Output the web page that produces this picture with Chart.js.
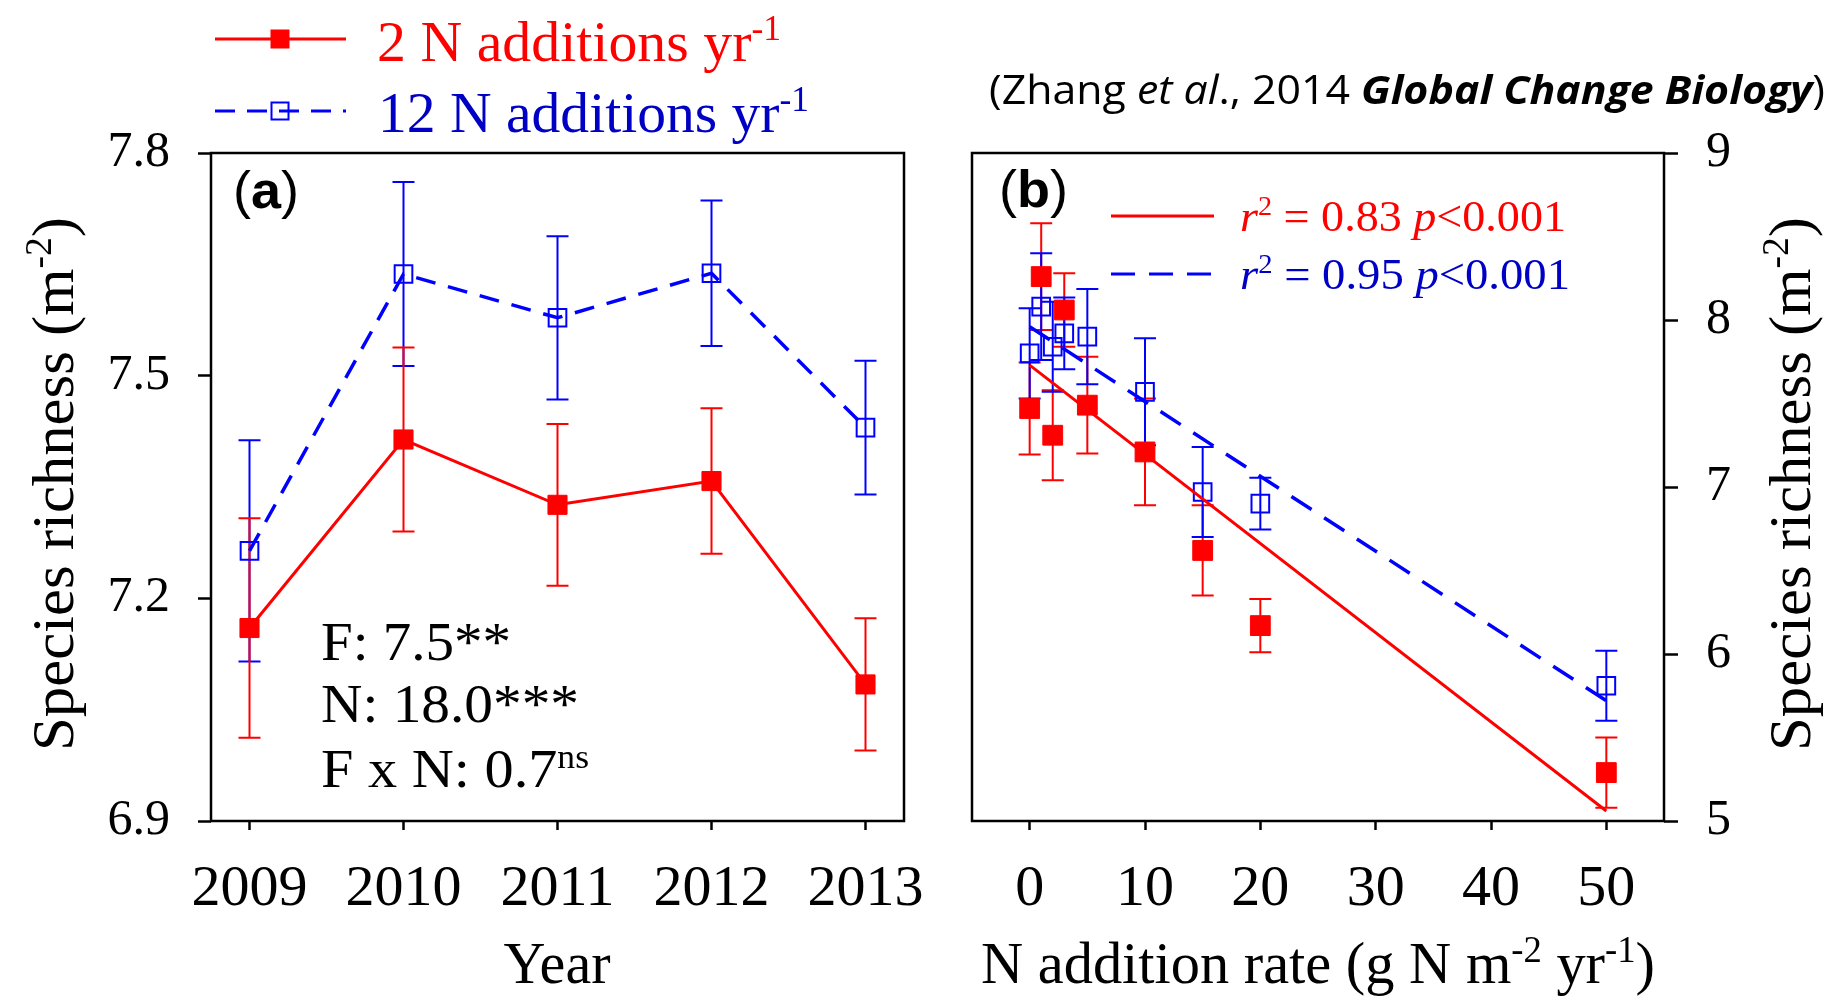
<!DOCTYPE html>
<html>
<head>
<meta charset="utf-8">
<title>Species richness under N additions</title>
<script src="https://cdn.jsdelivr.net/npm/chart.js@4.4.1/dist/chart.umd.min.js"></script>
<style>
  html, body { margin: 0; padding: 0; background: #fff; }
  #wrap { position: relative; width: 1839px; height: 996px; overflow: hidden; background: #fff; }
  canvas { position: absolute; top: 0; }
  #chartA { left: 0; }
  #chartB { left: 940px; }
</style>
</head>
<body>
<div id="wrap">
  <canvas id="chartA" width="940" height="996"></canvas>
  <canvas id="chartB" width="899" height="996"></canvas>
</div>
<script>
// panel (a): yearly means for the two addition frequencies
const years = [2009, 2010, 2011, 2012, 2013];
const rich2N = [7.160, 7.414, 7.326, 7.358, 7.084];
const se2N = [0.148, 0.124, 0.109, 0.098, 0.089];
const rich12N = [7.264, 7.637, 7.578, 7.638, 7.430];
const se12N = [0.149, 0.124, 0.110, 0.098, 0.090];
const yTicksA = [6.9, 7.2, 7.5, 7.8];

// panel (b): richness against N addition rate
const nRates = [0, 1, 2, 3, 5, 10, 15, 20, 50];
const richRate2N = [7.47, 8.26, 7.31, 8.06, 7.49, 7.21, 6.62, 6.17, 5.29];
const seRate2N = [0.275, 0.32, 0.27, 0.22, 0.29, 0.32, 0.27, 0.16, 0.21];
const richRate12N = [7.80, 8.08, 7.84, 7.92, 7.90, 7.57, 6.97, 6.90, 5.81];
const seRate12N = [0.27, 0.32, 0.27, 0.215, 0.285, 0.32, 0.27, 0.155, 0.21];
// regression lines, end points at rate 0 and 50
const fitX = [0, 50];
const fit2N = [7.73, 5.06];
const fit12N = [7.96, 5.72];
const xTicksB = [0, 10, 20, 30, 40, 50];
const yTicksB = [5, 6, 7, 8, 9];

const RED = '#ff0000';
const BLUE = '#0000ff';
const BLUE_TXT = '#0000c4';
const SERIF = "'Liberation Serif', 'Times New Roman', serif";
const SANS = "'Liberation Sans', Arial, sans-serif";
const CITE = "'Open Sans', Lato, sans-serif";

const toXY = (xs, ys) => xs.map((v, i) => ({ x: v, y: ys[i] }));

// text made of runs (italic / bold / superscript), optionally squeezed to a width
function drawRich(ctx, runs, o) {
  const size = o.size;
  const fontOf = r => (r.i ? 'italic ' : '') + (r.b ? 'bold ' : '') +
    Math.round((r.sup ? 0.62 : 1) * size) + 'px ' + (r.f || o.family || SERIF);
  let total = 0;
  const widths = runs.map(r => {
    ctx.font = fontOf(r);
    const w = ctx.measureText(r.t).width;
    total += w;
    return w;
  });
  const sx = o.width ? o.width / total : 1;
  ctx.save();
  ctx.translate(o.x, o.y);
  if (o.rotate) ctx.rotate(o.rotate);
  ctx.scale(sx, 1);
  ctx.textBaseline = 'alphabetic';
  ctx.textAlign = 'left';
  let cx = o.align === 'center' ? -total / 2 : 0;
  runs.forEach((r, k) => {
    ctx.font = fontOf(r);
    ctx.fillStyle = r.c || o.color || '#000';
    ctx.fillText(r.t, cx, r.sup ? -0.36 * size : 0);
    cx += widths[k];
  });
  ctx.restore();
}

function axisStyle(tickLen, pad, size) {
  return {
    border: { display: false },
    grid: { drawOnChartArea: false, drawTicks: true, tickLength: tickLen, tickWidth: 2.5, tickColor: '#000' },
    ticks: { color: '#000', padding: pad, autoSkip: false, maxRotation: 0, font: { family: SERIF, size: size } }
  };
}

// fixed axis box, no extra room asked for overhanging labels
const fixBox = (w, h) => s => {
  if (w) s.width = w;
  if (h) s.height = h;
  s.paddingLeft = 0; s.paddingRight = 0; s.paddingTop = 0; s.paddingBottom = 0;
};

// box round the plot area plus vertical error bars with caps
function framePlugin(bars) {
  return {
    id: 'frameBars',
    beforeDatasetsDraw(chart) {
      const { ctx, chartArea: a, scales: { x, y } } = chart;
      ctx.save();
      ctx.strokeStyle = '#000';
      ctx.lineWidth = 2.5;
      ctx.strokeRect(a.left, a.top, a.right - a.left, a.bottom - a.top);
      bars.forEach(s => {
        ctx.strokeStyle = s.color;
        ctx.lineWidth = 2;
        s.xs.forEach((xv, i) => {
          const px = x.getPixelForValue(xv);
          const top = y.getPixelForValue(s.ys[i] + s.err[i]);
          const bot = y.getPixelForValue(s.ys[i] - s.err[i]);
          ctx.beginPath();
          ctx.moveTo(px, top); ctx.lineTo(px, bot);
          ctx.moveTo(px - 11, top); ctx.lineTo(px + 11, top);
          ctx.moveTo(px - 11, bot); ctx.lineTo(px + 11, bot);
          ctx.stroke();
        });
      });
      ctx.restore();
    }
  };
}

const common = {
  responsive: false,
  animation: false,
  events: [],
  plugins: { legend: { display: false }, tooltip: { enabled: false } }
};

// ---------- panel (a) ----------
const textA = {
  id: 'textA',
  afterDraw(chart) {
    const ctx = chart.ctx;
    ctx.save();
    // series key above the panel
    ctx.lineWidth = 3;
    ctx.strokeStyle = RED;
    ctx.beginPath(); ctx.moveTo(215, 39); ctx.lineTo(346, 39); ctx.stroke();
    ctx.fillStyle = RED;
    ctx.fillRect(280 - 9.5, 39 - 9.5, 19, 19);
    ctx.strokeStyle = BLUE;
    ctx.setLineDash([20, 12]);
    ctx.beginPath(); ctx.moveTo(215, 111); ctx.lineTo(346, 111); ctx.stroke();
    ctx.setLineDash([]);
    ctx.lineWidth = 2;
    ctx.strokeRect(280 - 8.5, 111 - 8.5, 17, 17);
    ctx.restore();

    drawRich(ctx, [{ t: '2 N additions yr' }, { t: '-1', sup: true }],
      { x: 377, y: 61, size: 57, width: 404, color: RED });
    drawRich(ctx, [{ t: '12 N additions yr' }, { t: '-1', sup: true }],
      { x: 378, y: 132, size: 57, width: 431, color: BLUE_TXT });

    drawRich(ctx, [{ t: '(' }, { t: 'a', b: true }, { t: ')' }],
      { x: 233, y: 208, size: 52, width: 66, family: SANS });

    drawRich(ctx, [{ t: 'F: 7.5**' }], { x: 321, y: 660, size: 54, width: 190 });
    drawRich(ctx, [{ t: 'N: 18.0***' }], { x: 321, y: 722, size: 54, width: 258 });
    drawRich(ctx, [{ t: 'F x N: 0.7' }, { t: 'ns', sup: true }], { x: 321, y: 787, size: 54, width: 268 });

    drawRich(ctx, [{ t: 'Species richness (m' }, { t: '-2', sup: true }, { t: ')' }],
      { x: 73, y: 484, size: 60, width: 534, align: 'center', rotate: -Math.PI / 2 });
    drawRich(ctx, [{ t: 'Year' }], { x: 557, y: 983, size: 59, width: 107, align: 'center' });
  }
};

const xA = axisStyle(9, 25, 58);
const yA = axisStyle(13, 28, 50);

new Chart(document.getElementById('chartA'), {
  type: 'line',
  data: {
    datasets: [
      {
        label: '2 N additions yr-1',
        data: toXY(years, rich2N),
        borderColor: RED, borderWidth: 3, tension: 0,
        pointStyle: 'rect', pointRadius: 13.5,
        pointBackgroundColor: RED, pointBorderColor: RED, pointBorderWidth: 1
      },
      {
        label: '12 N additions yr-1',
        data: toXY(years, rich12N),
        borderColor: BLUE, borderWidth: 3.5, borderDash: [20, 13], tension: 0,
        pointStyle: 'rect', pointRadius: 12.5,
        pointBackgroundColor: 'rgba(0,0,0,0)', pointBorderColor: BLUE, pointBorderWidth: 2
      }
    ]
  },
  options: {
    ...common,
    layout: { padding: { left: 0, right: 36, top: 153, bottom: 0 } },
    scales: {
      x: {
        type: 'linear', min: 2008.75, max: 2013.25,
        ...xA,
        ticks: { ...xA.ticks, callback: v => String(v) },
        afterBuildTicks: s => { s.ticks = years.map(v => ({ value: v })); },
        afterFit: fixBox(0, 175)
      },
      y: {
        type: 'linear', min: 6.9, max: 7.8,
        ...yA,
        ticks: { ...yA.ticks, callback: v => v.toFixed(1) },
        afterBuildTicks: s => { s.ticks = yTicksA.map(v => ({ value: v })); },
        afterFit: fixBox(211, 0)
      }
    }
  },
  plugins: [
    framePlugin([
      { xs: years, ys: rich12N, err: se12N, color: BLUE },
      { xs: years, ys: rich2N, err: se2N, color: RED }
    ]),
    textA
  ]
});

// ---------- panel (b) ----------
const OFF_B = 940;
const textB = {
  id: 'textB',
  afterDraw(chart) {
    const ctx = chart.ctx;
    ctx.save();
    ctx.translate(-OFF_B, 0);

    // fit key inside the panel
    ctx.lineWidth = 3;
    ctx.strokeStyle = RED;
    ctx.beginPath(); ctx.moveTo(1111, 216); ctx.lineTo(1214, 216); ctx.stroke();
    ctx.strokeStyle = BLUE;
    ctx.setLineDash([24, 14]);
    ctx.beginPath(); ctx.moveTo(1111, 274); ctx.lineTo(1214, 274); ctx.stroke();
    ctx.setLineDash([]);

    drawRich(ctx, [{ t: 'r', i: true }, { t: '2', sup: true }, { t: ' = 0.83 ' }, { t: 'p', i: true }, { t: '<0.001' }],
      { x: 1240, y: 231, size: 44, width: 326, color: RED });
    drawRich(ctx, [{ t: 'r', i: true }, { t: '2', sup: true }, { t: ' = 0.95 ' }, { t: 'p', i: true }, { t: '<0.001' }],
      { x: 1240, y: 289, size: 44, width: 330, color: BLUE_TXT });

    drawRich(ctx, [{ t: '(' }, { t: 'b', b: true }, { t: ')' }],
      { x: 999, y: 207, size: 52, width: 69, family: SANS });

    drawRich(ctx, [
      { t: '(Zhang ' }, { t: 'et al', i: true }, { t: '., 2014 ' },
      { t: 'Global Change Biology', i: true, b: true }, { t: ')' }
    ], { x: 989, y: 104, size: 40, width: 836, family: CITE });

    drawRich(ctx, [{ t: 'Species richness (m' }, { t: '-2', sup: true }, { t: ')' }],
      { x: 1810, y: 484, size: 60, width: 534, align: 'center', rotate: -Math.PI / 2 });
    drawRich(ctx, [{ t: 'N addition rate (g N m' }, { t: '-2', sup: true }, { t: ' yr' }, { t: '-1', sup: true }, { t: ')' }],
      { x: 1318, y: 983, size: 59, width: 674, align: 'center' });
    ctx.restore();
  }
};

const xB = axisStyle(9, 25, 58);
const yB = axisStyle(14, 28, 50);

new Chart(document.getElementById('chartB'), {
  type: 'line',
  data: {
    datasets: [
      {
        label: 'fit 2 N',
        data: toXY(fitX, fit2N),
        borderColor: RED, borderWidth: 3, pointRadius: 0, tension: 0
      },
      {
        label: 'fit 12 N',
        data: toXY(fitX, fit12N),
        borderColor: BLUE, borderWidth: 3.5, borderDash: [24, 15], pointRadius: 0, tension: 0
      },
      {
        label: '2 N additions yr-1',
        data: toXY(nRates, richRate2N),
        showLine: false,
        pointStyle: 'rect', pointRadius: 14,
        pointBackgroundColor: RED, pointBorderColor: RED, pointBorderWidth: 1
      },
      {
        label: '12 N additions yr-1',
        data: toXY(nRates, richRate12N),
        showLine: false,
        pointStyle: 'rect', pointRadius: 12.5,
        pointBackgroundColor: 'rgba(0,0,0,0)', pointBorderColor: BLUE, pointBorderWidth: 2
      }
    ]
  },
  options: {
    ...common,
    layout: { padding: { left: 32, right: 0, top: 153, bottom: 0 } },
    scales: {
      x: {
        type: 'linear', min: -5, max: 55,
        ...xB,
        ticks: { ...xB.ticks, callback: v => String(v) },
        afterBuildTicks: s => { s.ticks = xTicksB.map(v => ({ value: v })); },
        afterFit: fixBox(0, 175)
      },
      y: {
        type: 'linear', position: 'right', min: 5, max: 9,
        ...yB,
        ticks: { ...yB.ticks, callback: v => String(v) },
        afterBuildTicks: s => { s.ticks = yTicksB.map(v => ({ value: v })); },
        afterFit: fixBox(175, 0)
      }
    }
  },
  plugins: [
    framePlugin([
      { xs: nRates, ys: richRate2N, err: seRate2N, color: RED },
      { xs: nRates, ys: richRate12N, err: seRate12N, color: BLUE }
    ]),
    textB
  ]
});
</script>
</body>
</html>
